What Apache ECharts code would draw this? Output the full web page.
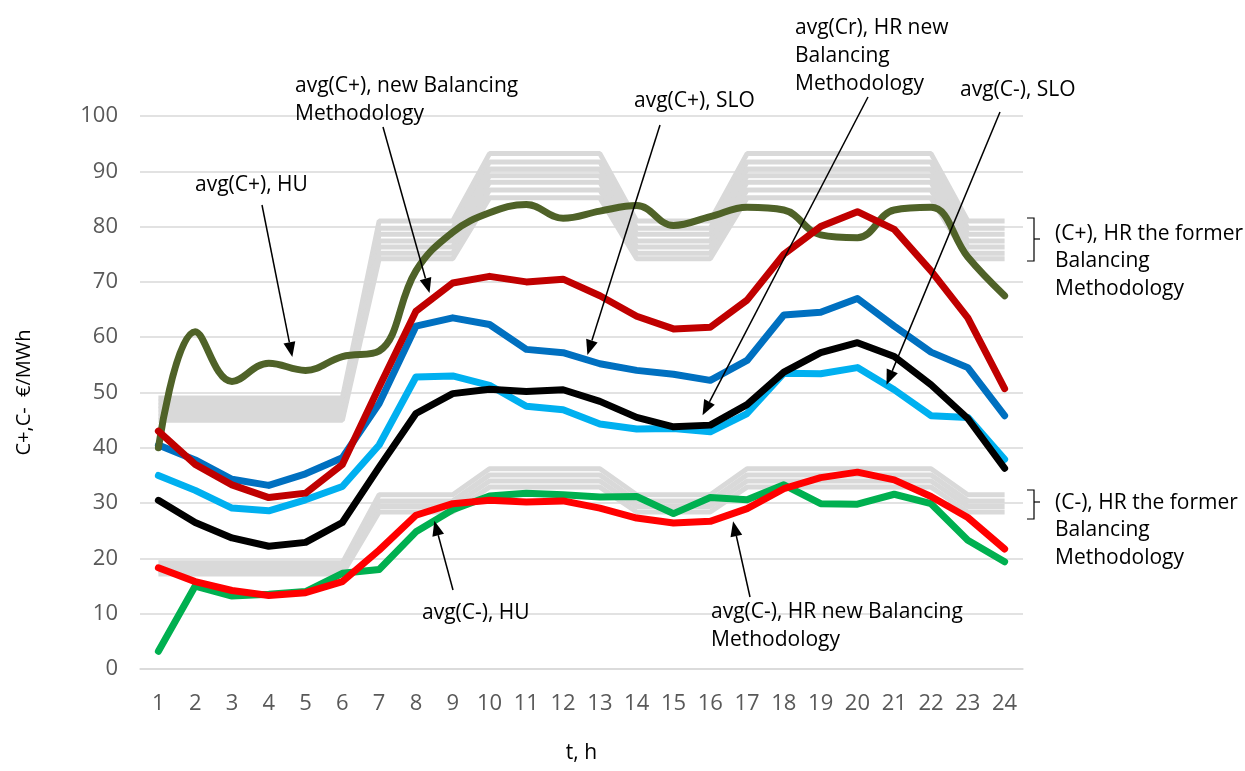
<!DOCTYPE html>
<html>
<head>
<meta charset="utf-8">
<script src="https://cdn.jsdelivr.net/npm/echarts@6/dist/echarts.min.js"></script>
<style>
  html, body { margin: 0; padding: 0; background: #fff; }
  #chart { width: 1245px; height: 771px; }
</style>
</head>
<body>
<div id="chart"></div>
<script>
// hours of the day
const hours = ['1','2','3','4','5','6','7','8','9','10','11','12','13','14','15','16','17','18','19','20','21','22','23','24'];

// average prices, €/MWh
const cPlusHU   = [40, 61, 52, 55.3, 54, 56.5, 57.5, 72, 79, 82.5, 84, 81.5, 82.8, 83.8, 80.2, 81.8, 83.5, 83, 78.5, 78, 83, 83.5, 74.5, 67.5];
const cPlusNew  = [43, 37, 33.3, 31, 31.8, 37, 51, 64.7, 69.8, 71, 70, 70.5, 67.5, 63.8, 61.5, 61.8, 66.7, 75, 80, 82.7, 79.5, 72, 63.5, 50.7];
const cPlusSLO  = [40.5, 37.8, 34.3, 33.2, 35.3, 38.2, 48, 62, 63.5, 62.3, 57.8, 57.2, 55.2, 54, 53.3, 52.2, 55.8, 64, 64.5, 67, 62, 57.3, 54.5, 45.8];
const cMinusSLO = [35, 32.3, 29.1, 28.6, 30.6, 33, 40.5, 52.8, 53, 51.3, 47.5, 46.9, 44.3, 43.4, 43.5, 42.9, 46.2, 53.5, 53.4, 54.5, 50.5, 45.8, 45.5, 37.9];
const crNew     = [30.5, 26.5, 23.7, 22.2, 22.9, 26.5, 36.5, 46.2, 49.8, 50.6, 50.2, 50.5, 48.4, 45.5, 43.8, 44.1, 47.8, 53.7, 57.2, 59, 56.5, 51.4, 45.3, 36.3];
const cMinusHU  = [3.2, 15, 13.2, 13.5, 14, 17.3, 18, 24.8, 28.8, 31.3, 31.8, 31.5, 31.1, 31.2, 28.1, 31, 30.6, 33.3, 29.9, 29.8, 31.6, 29.9, 23.3, 19.4];
const cMinusNew = [18.3, 15.8, 14.2, 13.3, 13.8, 15.8, 21.5, 27.8, 29.9, 30.5, 30.2, 30.4, 29.1, 27.3, 26.4, 26.7, 29, 32.6, 34.6, 35.6, 34.2, 31.2, 27.4, 21.7];

// former HR methodology: tariff block per hour (0 night, 1 normal, 2 peak)
const tariffBlock = [0,0,0,0,0,0,1,1,1,2,2,2,2,1,1,1,2,2,2,2,2,2,1,1];
// price of each former-methodology line in [night, normal, peak]
const formerPlus = [
  [49, 81, 93.2],
  [48.3, 79.7, 91.7],
  [47.6, 78.6, 90.4],
  [47, 77.4, 89.2],
  [46.3, 76.3, 88],
  [45.6, 75.2, 86.6],
  [45, 74.2, 85.2]
];
const formerMinus = [
  [19.2, 31.5, 36.2],
  [18.5, 30.4, 35.1],
  [17.8, 29.4, 34],
  [17.2, 28.4, 32.9]
];

const yTicks = [0, 10, 20, 30, 40, 50, 60, 70, 80, 90, 100];

const Chart = echarts.init(document.getElementById('chart'));
const FONT = '"Open Sans", sans-serif';

const series = [];
formerPlus.concat(formerMinus).forEach(function (lv) {
  series.push({
    type: 'line',
    data: tariffBlock.map(function (b) { return lv[b]; }),
    symbol: 'none',
    silent: true,
    z: 1,
    lineStyle: { color: '#d9d9d9', width: 5 }
  });
});

function mainLine(name, data, color, smooth) {
  return {
    name: name,
    type: 'line',
    data: data,
    symbol: 'none',
    smooth: smooth || false,
    z: 3,
    lineStyle: { color: color, width: 7, cap: 'round', join: 'round' }
  };
}
series.push(mainLine('avg(C-), SLO', cMinusSLO, '#00b0f0'));
series.push(mainLine('avg(C+), SLO', cPlusSLO, '#0070c0'));
series.push(mainLine('avg(Cr), HR new', crNew, '#000000'));
series.push(mainLine('avg(C+), HU', cPlusHU, '#4f6228', 0.4));
series.push(mainLine('avg(C+), HR new', cPlusNew, '#c00000'));
series.push(mainLine('avg(C-), HU', cMinusHU, '#00b050'));
series.push(mainLine('avg(C-), HR new', cMinusNew, '#ff0000'));

Chart.setOption({
  animation: false,
  grid: { left: 140, right: 222, top: 116, bottom: 102, outerBoundsMode: 'none', containLabel: false },
  xAxis: {
    type: 'category',
    data: hours,
    name: 't, h',
    nameLocation: 'middle',
    nameGap: 74,
    nameTextStyle: { fontFamily: FONT, fontSize: 21, color: '#000' },
    axisLine: { lineStyle: { color: '#d9d9d9', width: 1.5 } },
    axisTick: { show: false },
    axisLabel: { fontFamily: FONT, fontSize: 22, color: '#595959', margin: 24 }
  },
  yAxis: {
    type: 'value',
    min: yTicks[0],
    max: yTicks[yTicks.length - 1],
    interval: 10,
    name: 'C+,C-  €/MWh',
    nameLocation: 'middle',
    nameRotate: 90,
    nameGap: 106,
    nameTextStyle: { fontFamily: FONT, fontSize: 20, color: '#000' },
    axisLine: { show: false },
    axisTick: { show: false },
    splitLine: { lineStyle: { color: '#d9d9d9', width: 1.5 } },
    axisLabel: { fontFamily: FONT, fontSize: 22, color: '#595959', margin: 22 }
  },
  series: series
});

// annotations: text (pixel) with an arrow to a point on a curve (hour, value)
const notes = [
  { text: 'avg(C+), HU', x: 195, y: 184, from: [262, 205], hour: 4.64, value: 56.4 },
  { text: 'avg(C+), new Balancing\nMethodology', x: 295, y: 85, from: [383, 127], hour: 8.37, value: 68 },
  { text: 'avg(C+), SLO', x: 634, y: 100, from: [660, 125], hour: 12.66, value: 56.8 },
  { text: 'avg(Cr), HR new\nBalancing\nMethodology', x: 795, y: 27, from: [868, 97], hour: 15.79, value: 45.9 },
  { text: 'avg(C-), SLO', x: 960, y: 89, from: [1000, 112], hour: 20.79, value: 51.4 },
  { text: 'avg(C-), HU', x: 422, y: 612, from: [453, 590], hour: 8.5, value: 26.8 },
  { text: 'avg(C-), HR new Balancing\nMethodology', x: 711, y: 611, from: [750, 597], hour: 16.62, value: 26.7 }
];

function toPix(hour, value) {
  const i0 = Math.floor(hour) - 1;
  const f = hour - Math.floor(hour);
  const p0 = Chart.convertToPixel({ gridIndex: 0 }, [i0, value]);
  const p1 = Chart.convertToPixel({ gridIndex: 0 }, [i0 + 1, value]);
  return [p0[0] + (p1[0] - p0[0]) * f, p0[1]];
}

const graphics = [];
notes.forEach(function (n) {
  graphics.push({
    type: 'text', left: n.x, top: n.y - 13, z: 10,
    style: { text: n.text, font: '21px ' + FONT, fill: '#000', lineHeight: 28 }
  });
  const tip = toPix(n.hour, n.value);
  const dx = tip[0] - n.from[0], dy = tip[1] - n.from[1];
  const len = Math.sqrt(dx * dx + dy * dy);
  const ux = dx / len, uy = dy / len;
  const hl = 15, hw = 6;
  const bx = tip[0] - ux * hl, by = tip[1] - uy * hl;
  graphics.push({
    type: 'line', z: 10,
    shape: { x1: n.from[0], y1: n.from[1], x2: bx, y2: by },
    style: { stroke: '#000', lineWidth: 1.5 }
  });
  graphics.push({
    type: 'polygon', z: 10,
    shape: { points: [tip, [bx - uy * hw, by + ux * hw], [bx + uy * hw, by - ux * hw]] },
    style: { fill: '#000' }
  });
});

// brackets for the former methodology bands
function bracket(yTop, yBot, yMid, lines, textY) {
  graphics.push({
    type: 'polyline', z: 10,
    shape: { points: [[1027, yTop], [1034, yTop], [1034, yBot], [1027, yBot]] },
    style: { stroke: '#000', lineWidth: 1.2, fill: null }
  });
  graphics.push({
    type: 'line', z: 10,
    shape: { x1: 1034, y1: yMid, x2: 1040, y2: yMid },
    style: { stroke: '#000', lineWidth: 1.2 }
  });
  graphics.push({
    type: 'text', left: 1055, top: textY - 13, z: 10,
    style: { text: lines, font: '21px ' + FONT, fill: '#000', lineHeight: 27.5 }
  });
}
bracket(218, 261, 239, '(C+), HR the former\nBalancing\nMethodology', 233);
bracket(490, 519, 502, '(C-), HR the former\nBalancing\nMethodology', 502);

Chart.setOption({ graphic: graphics });
</script>
</body>
</html>
